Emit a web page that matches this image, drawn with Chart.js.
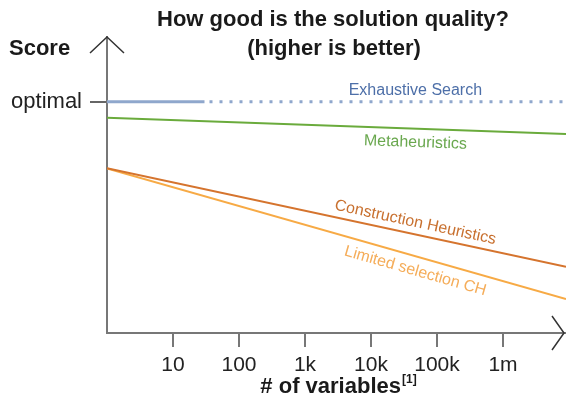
<!DOCTYPE html>
<html lang="en">
<head>
  <meta charset="UTF-8">
  <title>Solution quality</title>
  <script src="https://cdn.jsdelivr.net/npm/chart.js"></script>
  <style>
    body {
      margin: 0;
      background: #ffffff;
    }
    #wrap {
      width: 566px;
      height: 401px;
    }
  </style>
</head>
<body>
  <div id="wrap">
    <canvas id="quality" width="566" height="401"></canvas>
  </div>

  <script>
    const FONT = '"Liberation Sans", Arial, sans-serif';

    // x axis: number of variables (log scale)
    const xRange = [1, 9000000];
    const tickValues = [10, 100, 1000, 10000, 100000, 1000000];
    const tickLabels = ['10', '100', '1k', '10k', '100k', '1m'];

    // y axis: score, "optimal" = 100
    const optimalScore = 100;
    const scoreMax = 128;

    // one line per approach
    const exhaustiveX = [1, 30, 9000000];
    const exhaustiveY = [100, 100, 100];
    const metaX = [1, 9000000];
    const metaY = [93.1, 86.1];
    const constructionX = [1, 9000000];
    const constructionY = [71.2, 28.6];
    const limitedX = [1, 9000000];
    const limitedY = [71.2, 14.7];

    const toPoints = (xs, ys) => xs.map((x, i) => ({ x: x, y: ys[i] }));

    // text written next to each line, placed at labelAtX
    const labelAtX = 47000;
    const lineLabels = [
      { text: 'Exhaustive Search', color: '#4d6fa8', dy: -11, rotate: false },
      { text: 'Metaheuristics', color: '#6aa84f', dy: 14, rotate: true },
      { text: 'Construction Heuristics', color: '#c8702f', dy: -12, rotate: true },
      { text: 'Limited selection CH', color: '#f5ad5a', dy: 15, rotate: true }
    ];

    const decorations = {
      id: 'decorations',
      afterDraw(chart) {
        const ctx = chart.ctx;
        const area = chart.chartArea;
        const xs = chart.scales.x;

        ctx.save();
        ctx.fillStyle = '#1a1a1a';
        ctx.textAlign = 'center';
        ctx.textBaseline = 'alphabetic';
        ctx.font = 'bold 22px ' + FONT;
        ctx.fillText('How good is the solution quality?', 333, 26);
        ctx.fillText('(higher is better)', 334, 55);

        ctx.textAlign = 'left';
        ctx.fillText('Score', 9, 55);

        // x axis title with footnote marker
        const main = '# of variables';
        const w1 = ctx.measureText(main).width;
        ctx.font = 'bold 12px ' + FONT;
        const w2 = ctx.measureText('[1]').width;
        const startX = 338 - (w1 + w2) / 2;
        ctx.font = 'bold 22px ' + FONT;
        ctx.fillText(main, startX, 393);
        ctx.font = 'bold 12px ' + FONT;
        ctx.fillText('[1]', startX + w1 + 1, 383);

        // arrow heads on both axes
        ctx.strokeStyle = '#333333';
        ctx.lineWidth = 1.5;
        ctx.beginPath();
        ctx.moveTo(area.left - 17, area.top + 16);
        ctx.lineTo(area.left, area.top);
        ctx.lineTo(area.left + 17, area.top + 16);
        ctx.stroke();
        ctx.beginPath();
        ctx.moveTo(area.right - 14, area.bottom - 17);
        ctx.lineTo(area.right - 2, area.bottom);
        ctx.lineTo(area.right - 14, area.bottom + 17);
        ctx.stroke();

        // labels along the lines
        const px = xs.getPixelForValue(labelAtX);
        ctx.font = '16px ' + FONT;
        ctx.textAlign = 'center';
        ctx.textBaseline = 'middle';
        lineLabels.forEach((lab, i) => {
          const pts = chart.getDatasetMeta(i).data;
          const p0 = pts[0];
          const p1 = pts[pts.length - 1];
          const slope = (p1.y - p0.y) / (p1.x - p0.x);
          const py = p0.y + (px - p0.x) * slope;
          ctx.save();
          ctx.translate(px, py + lab.dy);
          if (lab.rotate) ctx.rotate(Math.atan(slope));
          ctx.fillStyle = lab.color;
          ctx.fillText(lab.text, 0, 0);
          ctx.restore();
        });
        ctx.restore();
      }
    };

    new Chart(document.getElementById('quality'), {
      type: 'line',
      data: {
        datasets: [
          {
            label: 'Exhaustive Search',
            data: toPoints(exhaustiveX, exhaustiveY),
            borderColor: '#8fa7cc',
            borderWidth: 3,
            segment: {
              borderDash: (c) => (c.p0DataIndex === 1 ? [3, 7] : undefined),
              borderDashOffset: (c) => (c.p0DataIndex === 1 ? -5 : 0)
            }
          },
          {
            label: 'Metaheuristics',
            data: toPoints(metaX, metaY),
            borderColor: '#6aab3c',
            borderWidth: 2
          },
          {
            label: 'Construction Heuristics',
            data: toPoints(constructionX, constructionY),
            borderColor: '#d5742e',
            borderWidth: 2
          },
          {
            label: 'Limited selection CH',
            data: toPoints(limitedX, limitedY),
            borderColor: '#f7aa45',
            borderWidth: 2
          }
        ]
      },
      options: {
        responsive: false,
        animation: false,
        layout: { padding: { top: 37, left: 0, right: 0, bottom: 0 } },
        elements: { point: { radius: 0 } },
        plugins: {
          legend: { display: false },
          tooltip: { enabled: false }
        },
        scales: {
          x: {
            type: 'logarithmic',
            min: xRange[0],
            max: xRange[1],
            afterBuildTicks: (scale) => {
              scale.ticks = tickValues.map((v) => ({ value: v }));
            },
            afterFit: (scale) => { scale.height = 68; },
            border: { display: true, color: '#777777', width: 2 },
            grid: {
              drawOnChartArea: false,
              tickLength: 14,
              tickColor: '#777777',
              lineWidth: 2
            },
            ticks: {
              autoSkip: false,
              maxRotation: 0,
              padding: 6,
              color: '#222222',
              font: { family: FONT, size: 21 },
              callback: (value, index) => tickLabels[index]
            }
          },
          y: {
            min: 0,
            max: scoreMax,
            afterBuildTicks: (scale) => {
              scale.ticks = [{ value: optimalScore }];
            },
            afterFit: (scale) => { scale.width = 107; },
            border: { display: true, color: '#777777', width: 2 },
            grid: {
              drawOnChartArea: false,
              tickLength: 17,
              tickColor: '#666666',
              lineWidth: 2
            },
            ticks: {
              padding: 8,
              color: '#222222',
              font: { family: FONT, size: 22 },
              callback: () => 'optimal'
            }
          }
        }
      },
      plugins: [decorations]
    });
  </script>
</body>
</html>
